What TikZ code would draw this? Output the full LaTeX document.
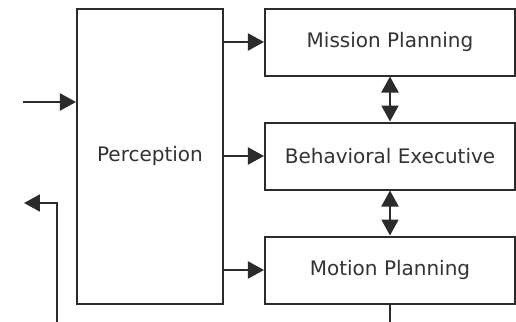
\documentclass[tikz,border=0pt]{standalone}
\usepackage{fontspec}
\setsansfont{DejaVu Sans}
\usepackage{tikz}
\usetikzlibrary{arrows.meta, positioning}
\definecolor{lineaGris}{HTML}{2B2B2B}
\definecolor{textoGris}{HTML}{333333}

\begin{document}
\begin{tikzpicture}[x=0.5pt, y=-0.5pt,
        blk/.style={draw=lineaGris, line width=1pt, fill=white, inner sep=0pt,
            align=center, text=textoGris, font=\sffamily\fontsize{10}{12}\selectfont},
        mod/.style={blk, minimum width=125pt, minimum height=33.5pt},
        flw/.style={-{Triangle[length=8pt, width=8.5pt]}, lineaGris, line width=1pt},
        bid/.style={{Triangle[length=8pt, width=8.5pt]}-{Triangle[length=8pt, width=8.5pt]}, lineaGris, line width=1pt}
    ]
        \useasboundingbox (0,0) rectangle (516,322);

        \node[blk, minimum width=73pt, minimum height=147.5pt] (perc) at (150,156) {Perception};
        \node[mod, anchor=north west] (mis) at ([xshift=20pt]perc.north east) {Mission Planning};
        \node[mod, below=22.5pt of mis] (beh) {Behavioral Executive};
        \node[mod, below=22.5pt of beh] (mot) {Motion Planning};

        \coordinate (sens) at (23,102);
        \coordinate (fbk) at (57,322);
        \coordinate (fbkTip) at (24,203);
        \coordinate (cmd) at (388,322);

        \draw[flw] (sens) -- (sens -| perc.west);
        \draw[flw] (fbk) |- (fbkTip);
        \draw[flw] (perc.east |- mis.west) -- (mis.west);
        \draw[flw] (perc.east |- beh.west) -- (beh.west);
        \draw[flw] (perc.east |- mot.west) -- (mot.west);
        \draw[bid] (mis.south) -- (beh.north);
        \draw[bid] (beh.south) -- (mot.north);
        \draw[lineaGris, line width=1pt] (mot.south) -- (mot.south |- cmd);
    \end{tikzpicture}
\end{document}
